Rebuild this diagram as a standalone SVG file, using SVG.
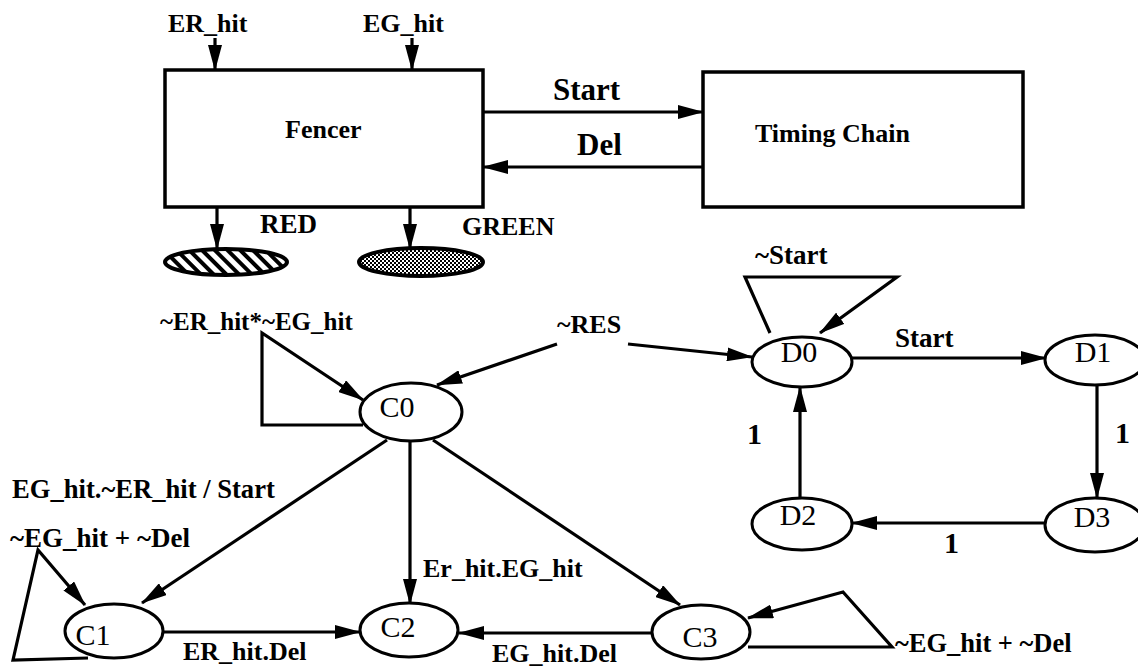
<svg xmlns="http://www.w3.org/2000/svg" width="1138" height="666" viewBox="0 0 1138 666">
<style>
.box{fill:#fff;stroke:#000;stroke-width:3.5}
.st{fill:#fff;stroke:#000;stroke-width:3}
.ln{fill:none;stroke:#000;stroke-width:3.2;stroke-linejoin:miter}
.arr{marker-end:url(#ah)}
.lb{font-family:"Liberation Serif","Times New Roman",serif;font-weight:bold;font-size:26px;fill:#000}
.big{font-size:31px}
.one{font-size:30px}
.nt{font-family:"Liberation Serif","Times New Roman",serif;font-size:30px;fill:#000;text-anchor:middle}
</style>
<defs>
<marker id="ah" markerUnits="userSpaceOnUse" markerWidth="26" markerHeight="14" refX="25" refY="7" orient="auto">
<path d="M0,0 L26,7 L0,14 z" fill="#000"/>
</marker>
<pattern id="hatch" patternUnits="userSpaceOnUse" width="9" height="9" patternTransform="rotate(-45)">
<rect width="9" height="9" fill="#fff"/>
<rect width="4" height="9" fill="#000"/>
</pattern>
<pattern id="dots" patternUnits="userSpaceOnUse" width="4" height="4">
<rect width="4" height="4" fill="#fff"/>
<rect width="2" height="2" fill="#000"/>
<rect x="2" y="2" width="2" height="2" fill="#000"/>
</pattern>
</defs>

<g id="connectors">
<line class="ln arr" x1="215" y1="38" x2="215" y2="70"/>
<line class="ln arr" x1="412" y1="38" x2="412" y2="70"/>
<line class="ln arr" x1="217" y1="207" x2="217" y2="249"/>
<line class="ln arr" x1="410" y1="207" x2="410" y2="249"/>
<line class="ln arr" x1="483" y1="112" x2="703" y2="112"/>
<line class="ln arr" x1="703" y1="167" x2="483" y2="167"/>
<polyline class="ln arr" points="363,425 262,425 262,333 363,400"/>
<line class="ln arr" x1="557" y1="344" x2="437" y2="385"/>
<line class="ln arr" x1="628" y1="344" x2="752" y2="357"/>
<line class="ln arr" x1="387" y1="440" x2="142" y2="603"/>
<line class="ln arr" x1="410" y1="442" x2="410" y2="604"/>
<line class="ln arr" x1="433" y1="440" x2="680" y2="605"/>
<polyline class="ln arr" points="88,658 13,660 38,550 85,605"/>
<line class="ln arr" x1="163" y1="632" x2="360" y2="632"/>
<line class="ln arr" x1="652" y1="633" x2="459" y2="633"/>
<polyline class="ln arr" points="748,647 892,647 843,592 748,618"/>
<polyline class="ln arr" points="770,333 745,277 897,277 820,333"/>
<line class="ln arr" x1="852" y1="358" x2="1046" y2="358"/>
<line class="ln arr" x1="1097" y1="386" x2="1097" y2="498"/>
<line class="ln arr" x1="1045" y1="523" x2="852" y2="523"/>
<line class="ln arr" x1="800" y1="498" x2="800" y2="387"/>
</g>

<g id="fencer">
<rect class="box" x="165" y="70" width="318" height="137"/>
<text class="lb" x="285" y="138">Fencer</text>
</g>
<g id="timing-chain">
<rect class="box" x="703" y="72" width="320" height="135"/>
<text class="lb" x="755" y="142">Timing Chain</text>
</g>
<g id="red-lamp">
<ellipse cx="226" cy="262" rx="61" ry="13" fill="url(#hatch)" stroke="#000" stroke-width="4"/>
</g>
<g id="green-lamp">
<ellipse cx="421" cy="262" rx="62" ry="14" fill="url(#dots)" stroke="#000" stroke-width="4"/>
</g>

<g id="C0"><ellipse class="st" cx="411" cy="412" rx="51" ry="29"/><text class="nt" x="397" y="417">C0</text></g>
<g id="C1"><ellipse class="st" cx="114" cy="631" rx="49" ry="27"/><text class="nt" x="93" y="645">C1</text></g>
<g id="C2"><ellipse class="st" cx="409" cy="630" rx="49" ry="27"/><text class="nt" x="398" y="637">C2</text></g>
<g id="C3"><ellipse class="st" cx="701" cy="632" rx="49" ry="27"/><text class="nt" x="700" y="647">C3</text></g>
<g id="D0"><ellipse class="st" cx="802" cy="362" rx="50" ry="25"/><text class="nt" x="799" y="362">D0</text></g>
<g id="D1"><ellipse class="st" cx="1095" cy="360" rx="50" ry="25"/><text class="nt" x="1093" y="362">D1</text></g>
<g id="D2"><ellipse class="st" cx="802" cy="524" rx="50" ry="26"/><text class="nt" x="798" y="525">D2</text></g>
<g id="D3"><ellipse class="st" cx="1095" cy="525" rx="50" ry="27"/><text class="nt" x="1092" y="527">D3</text></g>

<g id="labels">
<text class="lb" x="168" y="32">ER_hit</text>
<text class="lb" x="363" y="32">EG_hit</text>
<text class="lb big" x="553" y="100">Start</text>
<text class="lb big" x="577" y="155">Del</text>
<text class="lb" x="260" y="233" style="font-size:27px">RED</text>
<text class="lb" x="462" y="235">GREEN</text>
<text class="lb" x="160" y="330" style="font-size:25px">~ER_hit*~EG_hit</text>
<text class="lb" x="557" y="333">~RES</text>
<text class="lb" x="755" y="264" style="font-size:27px">~Start</text>
<text class="lb" x="895" y="347" style="font-size:27px">Start</text>
<text class="lb one" x="747" y="444">1</text>
<text class="lb one" x="1115" y="443">1</text>
<text class="lb one" x="944" y="553">1</text>
<text class="lb" x="12" y="498" style="font-size:26.6px">EG_hit.~ER_hit / Start</text>
<text class="lb" x="10" y="547" style="font-size:27px">~EG_hit + ~Del</text>
<text class="lb" x="423" y="577">Er_hit.EG_hit</text>
<text class="lb" x="183" y="660">ER_hit.Del</text>
<text class="lb" x="492" y="662">EG_hit.Del</text>
<text class="lb" x="895" y="652" style="font-size:26.5px">~EG_hit + ~Del</text>
</g>
</svg>
